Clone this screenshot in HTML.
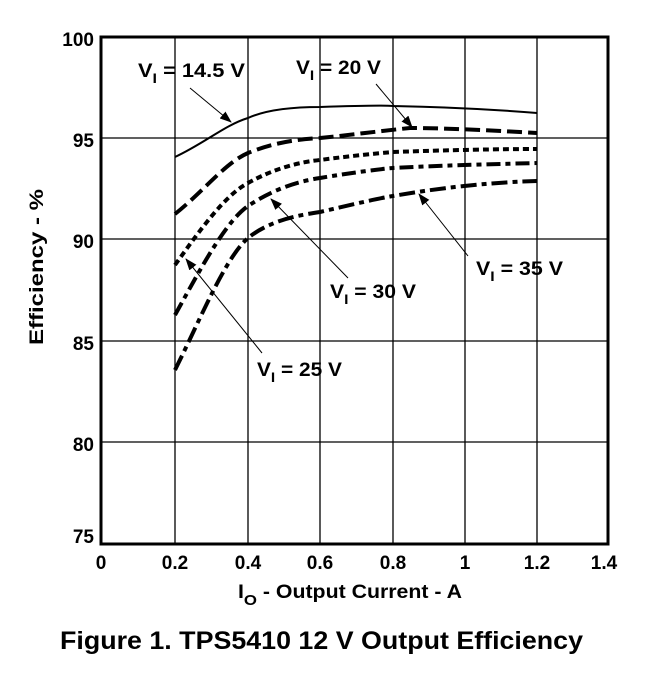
<!DOCTYPE html>
<html><head><meta charset="utf-8"><style>
body{margin:0;background:#fff;}
svg text{font-family:"Liberation Sans",Arial,sans-serif;font-weight:bold;fill:#000;}
</style></head><body>
<svg width="648" height="681" viewBox="0 0 648 681" xmlns="http://www.w3.org/2000/svg">
<defs><marker id="a" markerWidth="12" markerHeight="9" refX="11" refY="4.5" orient="auto" markerUnits="userSpaceOnUse"><path d="M0,0 L12,4.5 L0,9 z" fill="#000"/></marker></defs>
<g stroke="#000" stroke-width="1.3">
<line x1="175" y1="37" x2="175" y2="544"/><line x1="248" y1="37" x2="248" y2="544"/>
<line x1="320" y1="37" x2="320" y2="544"/><line x1="393" y1="37" x2="393" y2="544"/>
<line x1="465" y1="37" x2="465" y2="544"/><line x1="537" y1="37" x2="537" y2="544"/>
<line x1="101" y1="138" x2="608" y2="138"/><line x1="101" y1="239" x2="608" y2="239"/>
<line x1="101" y1="341" x2="608" y2="341"/><line x1="101" y1="442" x2="608" y2="442"/>
</g>
<rect x="101" y="37" width="507" height="507" fill="none" stroke="#000" stroke-width="3"/>
<g fill="none" stroke="#000" stroke-linecap="butt">
<path d="M175,157 C205,143 225,125 248,118 C270,108 300,107 320,107 C350,106 380,105 393,106 C450,107 500,110 537,113" stroke-width="2"/>
<path d="M175,214 C205,190 225,163 248,153 C275,142 300,139 320,138 C350,135 380,131 410,128 C450,128 500,131 537,133" stroke-width="4" stroke-dasharray="15,6"/>
<path d="M175,265 C200,230 225,195 248,183 C275,168 300,162 320,160 C350,156 380,153 393,152 C450,150 500,149 537,149" stroke-width="4" stroke-dasharray="6,4"/>
<path d="M175,315 C200,270 225,222 248,206 C275,188 300,181 320,178 C350,173 380,169 393,168 C450,165 500,164 537,163" stroke-width="4" stroke-dasharray="14,5,5,5"/>
<path d="M175,370 C200,320 225,258 248,238 C270,220 300,215 320,212 C350,205 380,198 393,196 C450,186 500,182 537,181" stroke-width="4" stroke-dasharray="16,5,5,5"/>
</g>
<g stroke="#000" stroke-width="1" marker-end="url(#a)">
<line x1="190" y1="88" x2="231" y2="122"/>
<line x1="376" y1="84" x2="412" y2="127"/>
<line x1="468" y1="256" x2="419" y2="194"/>
<line x1="348" y1="278" x2="271" y2="199"/>
<line x1="262" y1="353" x2="186" y2="259"/>
</g>
<g font-size="19">
<text x="138" y="77" textLength="107" lengthAdjust="spacingAndGlyphs">V<tspan font-size="14" dy="6">I</tspan><tspan dy="-6"> = 14.5 V</tspan></text>
<text x="296" y="74" textLength="85" lengthAdjust="spacingAndGlyphs">V<tspan font-size="14" dy="6">I</tspan><tspan dy="-6"> = 20 V</tspan></text>
<text x="476" y="275" textLength="87" lengthAdjust="spacingAndGlyphs">V<tspan font-size="14" dy="6">I</tspan><tspan dy="-6"> = 35 V</tspan></text>
<text x="330" y="298" textLength="86" lengthAdjust="spacingAndGlyphs">V<tspan font-size="14" dy="6">I</tspan><tspan dy="-6"> = 30 V</tspan></text>
<text x="257" y="376" textLength="85" lengthAdjust="spacingAndGlyphs">V<tspan font-size="14" dy="6">I</tspan><tspan dy="-6"> = 25 V</tspan></text>
</g>
<g font-size="19" text-anchor="end">
<text x="94" y="46">100</text><text x="94" y="147">95</text><text x="94" y="248">90</text>
<text x="94" y="350">85</text><text x="94" y="451">80</text><text x="94" y="543">75</text>
</g>
<g font-size="19" text-anchor="middle">
<text x="101" y="569">0</text><text x="175" y="569">0.2</text><text x="248" y="569">0.4</text>
<text x="320" y="569">0.6</text><text x="393" y="569">0.8</text><text x="465" y="569">1</text>
<text x="537" y="569">1.2</text><text x="604" y="569">1.4</text>
</g>
<text x="238" y="598" font-size="19" textLength="224" lengthAdjust="spacingAndGlyphs">I<tspan font-size="15" dy="7">O</tspan><tspan dy="-7"> - Output Current - A</tspan></text>
<text transform="translate(43,267) rotate(-90)" font-size="19" text-anchor="middle" textLength="156" lengthAdjust="spacingAndGlyphs">Efficiency - %</text>
<text x="60" y="649" font-size="25" textLength="523" lengthAdjust="spacingAndGlyphs">Figure 1. TPS5410 12 V Output Efficiency</text>
</svg>
</body></html>
